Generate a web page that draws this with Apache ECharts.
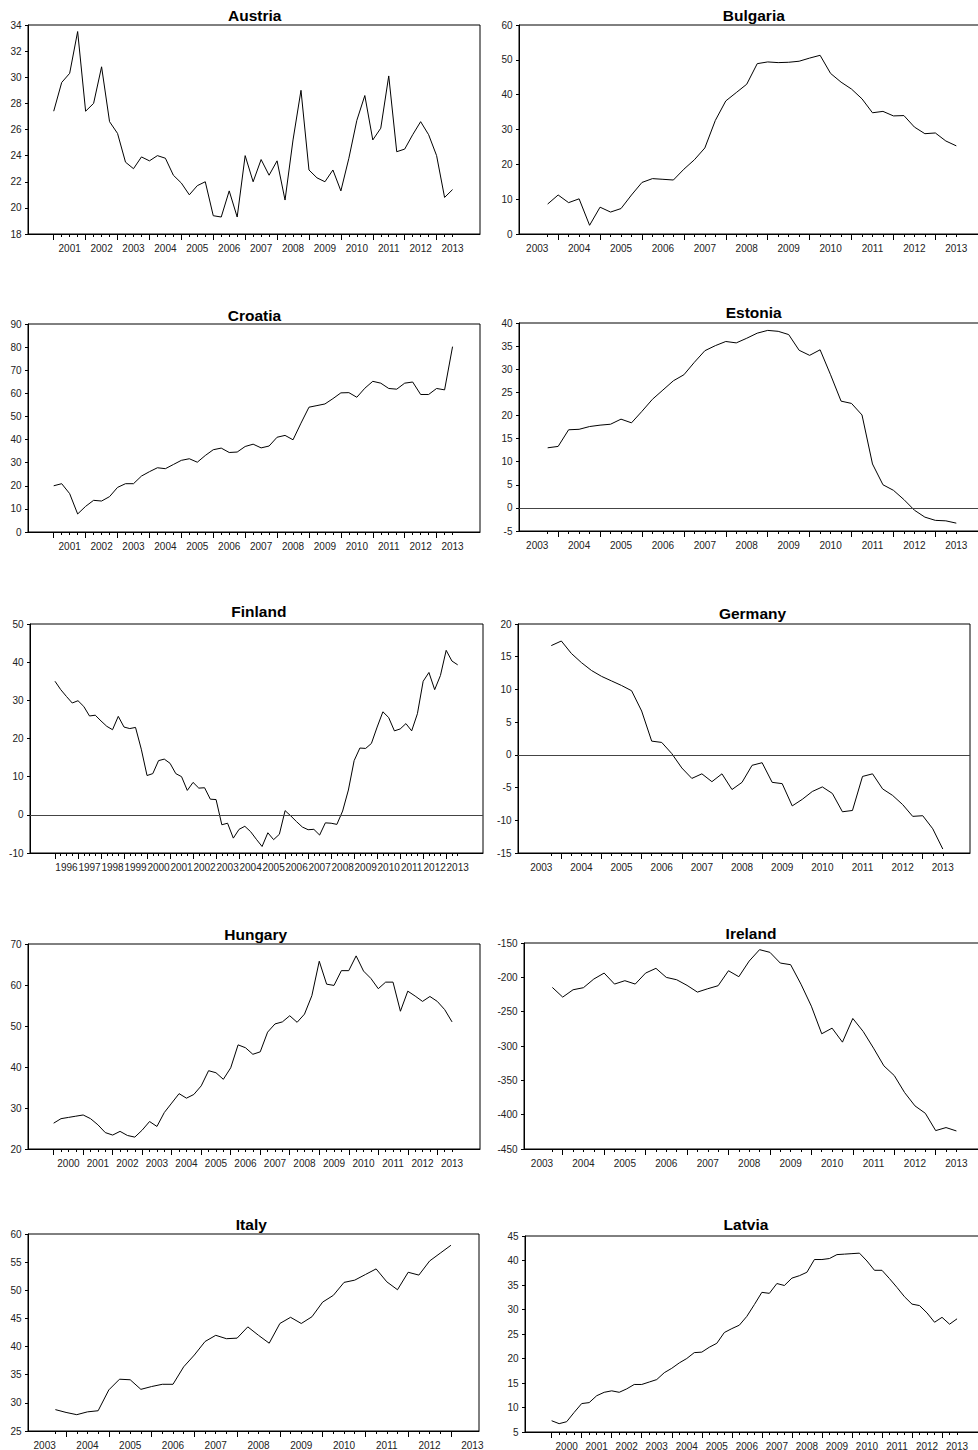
<!DOCTYPE html>
<html>
<head>
<meta charset="utf-8">
<script src="https://cdn.jsdelivr.net/npm/echarts@6/dist/echarts.min.js"></script>
<style>
html,body{margin:0;padding:0;background:#fff;overflow:hidden}
#c{width:978px;height:1450px}
</style>
</head>
<body>
<div id="c"></div>
<script>
// ---------------- DATA (quarterly series) ----------------
const countries = ['Austria','Bulgaria','Croatia','Estonia','Finland','Germany','Hungary','Ireland','Italy','Latvia'];

// first observation of each series: [year, quarter]
const austriaStart  = [2001, 1];
const bulgariaStart = [2003, 4];
const croatiaStart  = [2001, 1];
const estoniaStart  = [2003, 4];
const finlandStart  = [1996, 1];
const germanyStart  = [2003, 4];
const hungaryStart  = [2000, 1];
const irelandStart  = [2003, 4];
const italyStart    = [2003, 4];
const latviaStart   = [2000, 1];

const austriaValues = [27.4,29.6,30.3,33.5,27.4,28.0,30.8,26.6,25.7,23.5,23.0,23.9,23.6,24.0,23.8,22.5,21.9,21.0,21.7,22.0,
  19.4,19.3,21.3,19.3,24.0,22.0,23.7,22.5,23.6,20.6,25.2,29.0,22.9,22.3,22.0,22.9,21.3,23.8,26.7,28.6,
  25.2,26.1,30.1,24.3,24.5,25.6,26.6,25.6,24.0,20.8,21.4];
const bulgariaValues = [8.6,11.2,9.0,10.1,2.5,7.7,6.3,7.3,11.2,14.8,15.9,15.7,15.5,18.6,21.3,24.7,32.6,38.2,40.6,43.0,
  48.9,49.4,49.2,49.3,49.6,50.5,51.3,46.1,43.6,41.6,38.8,34.8,35.2,33.9,34.0,30.7,28.8,29.0,26.7,25.3];
const croatiaValues = [20.0,20.9,16.6,7.8,11.1,13.7,13.4,15.3,19.3,20.9,20.9,24.2,26.1,27.8,27.4,29.2,31.0,31.7,30.2,33.1,
  35.6,36.3,34.4,34.6,37.0,38.0,36.4,37.2,41.0,41.8,39.9,47.1,54.0,54.7,55.4,57.7,60.2,60.3,58.3,62.2,
  65.2,64.4,62.1,61.8,64.4,64.9,59.5,59.5,62.1,61.5,80.2];
const estoniaValues = [13.0,13.3,16.9,17.0,17.6,17.9,18.1,19.2,18.4,20.9,23.5,25.5,27.5,28.8,31.5,34.0,35.1,36.0,35.7,36.7,
  37.8,38.4,38.2,37.5,34.1,33.0,34.2,28.8,23.1,22.6,20.1,9.5,5.0,3.8,1.8,-0.5,-2.0,-2.7,-2.8,-3.3];
const finlandValues = [35.0,32.8,31.0,29.3,29.9,28.4,25.9,26.1,24.6,23.2,22.3,25.8,23.0,22.6,22.9,17.2,10.3,10.8,14.2,14.6,
  13.5,10.8,10.0,6.4,8.5,7.0,7.1,4.1,4.0,-2.6,-2.2,-6.1,-3.8,-3.0,-4.4,-6.4,-8.3,-4.7,-6.5,-5.1,
  1.1,-0.3,-1.8,-3.2,-3.9,-3.8,-5.3,-2.1,-2.2,-2.5,1.0,6.5,14.2,17.5,17.4,18.7,23.0,27.0,25.5,22.0,
  22.5,23.9,22.0,26.5,35.0,37.3,32.8,36.5,43.1,40.3,39.3];
const germanyValues = [16.7,17.4,15.5,14.1,12.9,12.0,11.3,10.6,9.8,6.7,2.1,1.9,0.2,-2.0,-3.6,-2.9,-4.1,-2.9,-5.3,-4.2,
  -1.6,-1.2,-4.2,-4.4,-7.8,-6.8,-5.6,-4.9,-5.9,-8.7,-8.5,-3.3,-2.9,-5.2,-6.2,-7.6,-9.4,-9.3,-11.3,-14.4];
const hungaryValues = [26.3,27.4,27.7,28.0,28.3,27.4,25.9,24.0,23.4,24.3,23.3,22.9,24.6,26.7,25.5,28.9,31.2,33.5,32.4,33.3,
  35.4,39.1,38.6,37.0,39.8,45.4,44.7,43.1,43.7,48.5,50.5,51.0,52.5,50.9,52.9,57.4,65.8,60.2,59.9,63.5,
  63.5,67.1,63.4,61.6,59.1,60.7,60.7,53.6,58.5,57.3,56.0,57.2,56.0,54.0,51.0];
const irelandValues = [-214.7,-228.8,-218.1,-215.1,-202.5,-193.8,-209.8,-204.9,-209.8,-193.8,-186.9,-200.1,-203.5,-211.7,-221.5,-216.6,-212.2,-190.4,-199.1,-176.3,
  -159.7,-163.6,-179.2,-181.6,-210.0,-242.0,-282.2,-274.0,-294.4,-259.9,-278.8,-303.1,-328.9,-343.0,-367.8,-387.2,-398.0,-423.2,-418.8,-423.7];
const italyValues = [28.8,28.3,27.9,28.4,28.6,32.3,34.2,34.1,32.4,32.9,33.3,33.3,36.4,38.5,40.9,42.0,41.4,41.5,43.5,42.0,
  40.6,44.1,45.2,44.1,45.3,47.9,49.1,51.4,51.8,52.8,53.8,51.5,50.1,53.2,52.7,55.2,56.6,58.0];
const latviaValues = [7.3,6.7,7.1,9.0,10.8,11.0,12.4,13.1,13.4,13.1,13.8,14.7,14.7,15.2,15.7,17.1,18.0,19.1,20.0,21.2,
  21.3,22.3,23.1,25.3,26.1,26.8,28.6,31.0,33.5,33.3,35.3,34.9,36.4,36.9,37.6,40.2,40.2,40.4,41.2,41.3,
  41.4,41.5,39.9,38.0,38.0,36.3,34.5,32.6,31.1,30.8,29.3,27.4,28.4,27.0,28.1];

// value-axis ranges [min, max, interval]
const yRanges = [[18,34,2],[0,60,10],[0,90,10],[-5,40,5],[-10,50,10],[-15,20,5],[20,70,10],[-450,-150,50],[25,60,5],[5,45,5]];
const zeroLine = [false,false,false,true,true,true,false,false,false,false];

const seriesValues = [austriaValues,bulgariaValues,croatiaValues,estoniaValues,finlandValues,germanyValues,hungaryValues,irelandValues,italyValues,latviaValues];
const seriesStarts = [austriaStart,bulgariaStart,croatiaStart,estoniaStart,finlandStart,germanyStart,hungaryStart,irelandStart,italyStart,latviaStart];

// ---------------- LAYOUT (pixels / axis extents) ----------------
const layout = [
  {l:28,  t:25,   w:452, h:209, xMin:2000.194, xMax:2014.36,  tx:254.7, ty:15.8},
  {l:519, t:25,   w:470, h:209, xMin:2003.066, xMax:2014.28,  tx:753.8, ty:15.6},
  {l:28,  t:324,  w:452, h:208, xMin:2000.194, xMax:2014.36,  tx:254.5, ty:315.8},
  {l:519, t:323,  w:470, h:208, xMin:2003.066, xMax:2014.28,  tx:753.7, ty:313.2},
  {l:30,  t:624,  w:453, h:229, xMin:1994.914, xMax:2014.6,   tx:258.8, ty:612.4},
  {l:518, t:624,  w:452, h:229, xMin:2002.921, xMax:2014.177, tx:752.5, ty:613.6},
  {l:28,  t:944,  w:452, h:205, xMin:1999.131, xMax:2014.447, tx:255.7, ty:935.4},
  {l:524, t:943,  w:461, h:206, xMin:2003.066, xMax:2014.19,  tx:751.0, ty:934.0},
  {l:28,  t:1234, w:451, h:197, xMin:2003.11,  xMax:2013.656, tx:251.3, ty:1225.4},
  {l:525, t:1236, w:465, h:196, xMin:1999.113, xMax:2014.597, tx:746.0, ty:1225.4}
];

const FONT = "'Liberation Sans', Arial, Helvetica, sans-serif";

function periodTimes(start, n) {
  const t0 = start[0] + (start[1] - 1) / 4;
  const out = [];
  for (let i = 0; i < n; i++) out.push(+(t0 + i * 0.25).toFixed(4));
  return out;
}

const option = {
  animation: false,
  backgroundColor: '#fff',
  title: [], grid: [], xAxis: [], yAxis: [], series: []
};

countries.forEach((name, k) => {
  const L = layout[k];
  const vals = seriesValues[k];
  const times = periodTimes(seriesStarts[k], vals.length);
  const tFirst = times[0], tLast = times[times.length - 1];
  const yearStarts = [], yearCenters = [];
  for (let y = Math.floor(tFirst); y <= Math.floor(tLast); y++) {
    if (y >= tFirst - 1e-6 && y <= tLast + 1e-6) yearStarts.push(y);
    yearCenters.push(y + 0.5);
  }
  const yr = yRanges[k];

  option.title.push({
    text: name, left: L.tx, top: L.ty - 8.5, textAlign: 'center', padding: 0,
    textStyle: {fontSize: 15.5, fontWeight: 'bold', color: '#000', fontFamily: FONT}
  });
  option.grid.push({
    left: L.l, top: L.t, width: L.w, height: L.h, containLabel: false, outerBoundsMode: 'none',
    show: true, borderColor: '#000', borderWidth: 1, backgroundColor: 'transparent'
  });
  option.xAxis.push({
    type: 'value', gridIndex: k, position: 'bottom', min: L.xMin, max: L.xMax,
    axisLine: {show: true, onZero: false, lineStyle: {color: '#000', width: 1}},
    axisTick: {show: true, customValues: times, length: 3, lineStyle: {color: '#000', width: 1}},
    axisLabel: {show: true, customValues: yearCenters, formatter: v => String(Math.round(v - 0.5)),
      fontSize: 10, color: '#222', fontFamily: FONT, margin: 9},
    splitLine: {show: false}
  });
  option.xAxis.push({
    type: 'value', gridIndex: k, position: 'bottom', min: L.xMin, max: L.xMax,
    axisLine: {show: false, onZero: false},
    axisTick: {show: true, customValues: yearStarts, length: 6, lineStyle: {color: '#000', width: 1}},
    axisLabel: {show: false},
    splitLine: {show: false}
  });
  option.yAxis.push({
    type: 'value', gridIndex: k, min: yr[0], max: yr[1], interval: yr[2],
    axisLine: {show: true, onZero: false, lineStyle: {color: '#000', width: 1}},
    axisTick: {show: true, length: 3, lineStyle: {color: '#000', width: 1}},
    axisLabel: {fontSize: 10, color: '#222', fontFamily: FONT, margin: 6.5},
    splitLine: {show: false}
  });
  const s = {
    type: 'line', name: name, xAxisIndex: 2 * k, yAxisIndex: k,
    data: times.map((t, i) => [t, vals[i]]),
    showSymbol: false, symbol: 'none', smooth: false,
    lineStyle: {color: '#000', width: 1}, silent: true
  };
  if (zeroLine[k]) {
    s.markLine = {
      silent: true, symbol: 'none', label: {show: false}, animation: false,
      lineStyle: {color: '#444', type: 'solid', width: 1},
      data: [{yAxis: 0}]
    };
  }
  option.series.push(s);
});

const chart = echarts.init(document.getElementById('c'), null, {renderer: 'svg', width: 978, height: 1450});
chart.setOption(option);
</script>
</body>
</html>
